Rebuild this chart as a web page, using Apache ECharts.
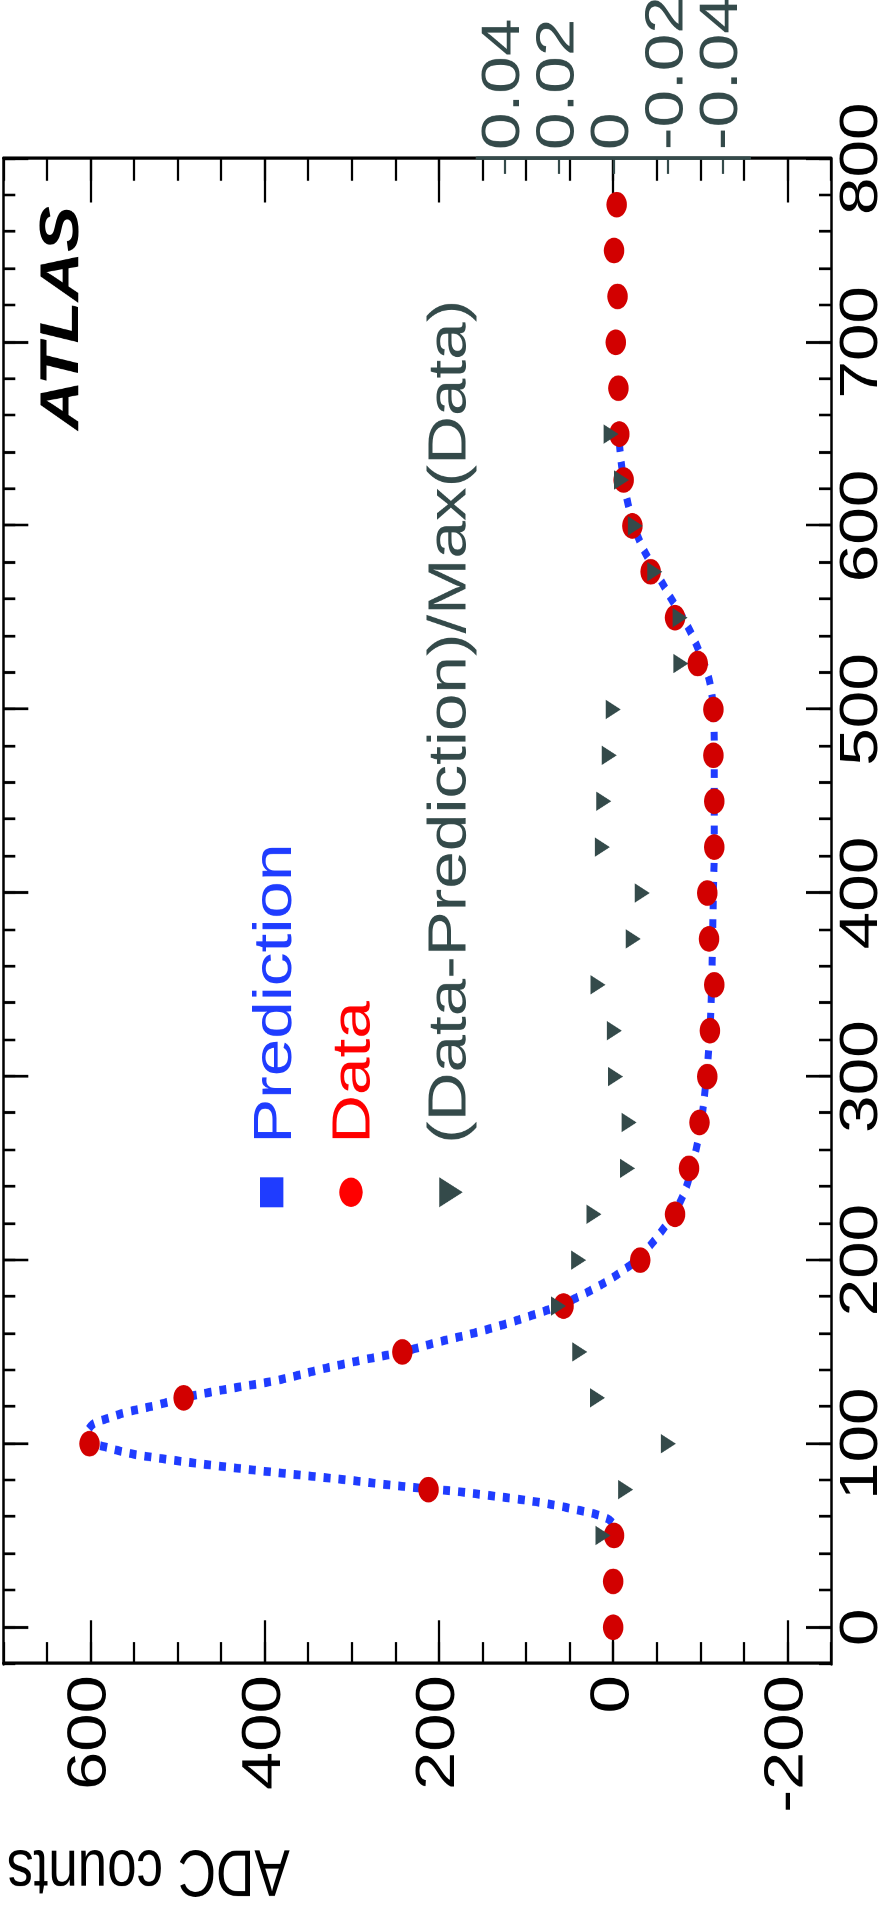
<!DOCTYPE html>
<html><head><meta charset="utf-8">
<script src="https://cdn.jsdelivr.net/npm/echarts@6/dist/echarts.min.js"></script>
<style>
html,body{margin:0;padding:0;background:#fff;overflow:hidden;width:891px;height:1910px}
#wrap{position:absolute;left:0;top:0;width:1528px;height:891px;transform-origin:0 0;
transform:translate(0,1910px) rotate(-90deg) scaleX(1.25);}
</style></head>
<body><div id="wrap"></div>
<script>
// ---- data ----
const timeNs  = [0,25,50,75,100,125,150,175,200,225,250,275,300,325,350,375,400,425,450,475,500,525,550,575,600,625,650,675,700,725,750,775];
const dataADC = [0,0,-1,212,601,493,242,57,-31,-71,-87,-99,-108,-111,-116,-110,-108,-116,-116,-115,-115,-97,-71,-43,-22,-12,-7,-6,-3,-5,-1,-4];
const ratioTime = [50,75,100,125,150,175,200,225,250,275,300,325,350,375,400,425,450,475,500,525,550,575,600,625,650];
const ratioVals = [0.0038,-0.0045,-0.0202,0.0058,0.0123,0.0201,0.0127,0.0071,-0.0052,-0.0058,-0.0008,-0.0004,0.0056,-0.0073,-0.0106,0.0040,0.0035,0.0015,0.0,-0.0248,-0.0245,-0.0152,-0.0081,-0.0030,0.0008];
const predTime = [57,59,62,64,66,68,70,72,74,76,78,80,82,85,88,91,94,96,98.5,100,102,105,108,111,114,117,121,125,128,131,134,137,140,143,146,150,155,160,165,170,175,180,185,190,195,200,210,220,230,240,250,260,275,300,325,350,375,400,425,450,475,500,512,520,530,540,550,560,570,580,590,600,612,625,640,655];
const predADC  = [1,6,23,42,61,84,112,146,180,225,265,300,340,400,455,505,547,566,585,597,603,604,602,596,579,560,524,493,463,428,391,364,340,313,284,242,204,162,125,93,63,40,20,2,-13,-27,-46,-62,-75,-84,-90,-95,-101,-107,-111,-113,-114,-115,-116,-116,-116,-115,-112,-108,-100,-91,-80,-67,-55,-43,-32,-24,-17,-12,-8,-6];
const timeTicks  = [0,100,200,300,400,500,600,700,800];
const adcTicks   = [-200,0,200,400,600];
const ratioTicks = [-0.04,-0.02,0,0.02,0.04];
const legendLabels = ['Prediction','Data','(Data-Prediction)/Max(Data)'];

// ---- style ----
const BLUE='#1f3cff', RED='#d20000', LRED='#ff0000', GRAY='#344a4a', FONT='"Liberation Sans", Arial, sans-serif';
const GL=196.8, GR=127, GT=3.3, GB=60;
const TMIN=-20, TMAX=800;

const chart = echarts.init(document.getElementById('wrap'), null, {width:1528, height:891, devicePixelRatio:2});

function xAx(pos, major, withLabel){
  return {type:'value', gridIndex:0, position:pos, min:TMIN, max:TMAX, interval:20,
    axisLine:{show:!major, onZero:false, lineStyle:{color:'#000', width:2.6}},
    axisTick:major?{show:true, inside:true, length:25, lineStyle:{color:'#000', width:2.2}, customValues:timeTicks}
                  :{show:true, inside:true, length:12, lineStyle:{color:'#000', width:2.2}},
    axisLabel:withLabel?{show:true, customValues:timeTicks, fontSize:54, fontFamily:FONT, color:'#000', margin:4, formatter:v=>String(v)}:{show:false},
    splitLine:{show:false}};
}
function yAx(pos, major, withLabel){
  return {type:'value', gridIndex:0, position:pos, min:-250, max:700, interval:50,
    axisLine:{show:!major, onZero:false, lineStyle:{color:'#000', width:2.6}},
    axisTick:major?{show:true, inside:true, length:35, lineStyle:{color:'#000', width:2.2}, customValues:adcTicks}
                  :{show:true, inside:true, length:17.6, lineStyle:{color:'#000', width:2.2}},
    axisLabel:withLabel?{show:true, customValues:adcTicks, fontSize:55, fontFamily:FONT, color:'#000', margin:9, formatter:v=>String(v)}:{show:false},
    splitLine:{show:false}};
}

const graphics = [
  {type:'text', x:1184, y:63, style:{text:'ATLAS', font:'italic bold 55px '+FONT, fill:'#000', align:'left', verticalAlign:'middle'}},
  {type:'text', x:32.8, y:7, rotation:Math.PI/2, style:{text:'ADC counts', font:'53px '+FONT, fill:'#000', align:'right', verticalAlign:'middle'}},
  // legend
  {type:'rect', shape:{x:574.2-12, y:271.7-11.7, width:24, height:23.4}, style:{fill:BLUE}},
  {type:'circle', shape:{cx:574.2, cy:351, r:11.7}, style:{fill:LRED}},
  {type:'polygon', shape:{points:[[574.2-12,451-11.7],[574.2+12,451-11.7],[574.2,451+11.7]]}, style:{fill:GRAY}},
  {type:'text', x:613, y:276, style:{text:legendLabels[0], font:'54px '+FONT, fill:BLUE, align:'left', verticalAlign:'middle'}},
  {type:'text', x:613, y:354.5, style:{text:legendLabels[1], font:'54px '+FONT, fill:LRED, align:'left', verticalAlign:'middle'}},
  {type:'text', x:613, y:450.5, style:{text:legendLabels[2], font:'54px '+FONT, fill:GRAY, align:'left', verticalAlign:'middle'}}
];

const option = {
  animation:false,
  backgroundColor:'#fff',
  grid:[
    {left:GL, right:GR, top:GT, bottom:GB, containLabel:false, outerBoundsMode:'none'},
    {left:GL, right:GR, top:477, bottom:141.4, containLabel:false, outerBoundsMode:'none'}
  ],
  xAxis:[
    xAx('bottom', false, true),
    xAx('bottom', true, false),
    xAx('top', false, false),
    xAx('top', true, false),
    {type:'value', gridIndex:1, min:TMIN, max:TMAX, show:false, axisLine:{onZero:false}}
  ],
  yAxis:[
    yAx('left', false, true),
    yAx('left', true, false),
    yAx('right', false, false),
    yAx('right', true, false),
    {type:'value', gridIndex:1, position:'right', min:-0.05, max:0.05, interval:0.01, z:5,
      axisLine:{show:true, onZero:false, lineStyle:{color:GRAY, width:2.8}},
      axisTick:{show:true, inside:true, length:12, customValues:ratioTicks, lineStyle:{color:GRAY, width:2.2}},
      axisLabel:{show:true, customValues:ratioTicks, fontSize:54, fontFamily:FONT, color:GRAY, margin:7,
        formatter:v=>(Math.abs(v)<1e-9?'0':String(+(+v).toFixed(2)))},
      splitLine:{show:false}}
  ],
  series:[
    {type:'line', name:'Prediction', xAxisIndex:0, yAxisIndex:0, data:predTime.map((t,i)=>[t,predADC[i]]),
      smooth:0.35, showSymbol:false, symbol:'none', z:2,
      lineStyle:{color:BLUE, width:7, type:[7,8], cap:'butt'}},
    {type:'scatter', name:'Data', xAxisIndex:0, yAxisIndex:0, data:timeNs.map((t,i)=>[t,dataADC[i]]),
      symbol:'circle', symbolSize:20.5, itemStyle:{color:RED, opacity:1}, z:3},
    {type:'scatter', name:'(Data-Prediction)/Max(Data)', xAxisIndex:4, yAxisIndex:4, data:ratioTime.map((t,i)=>[t,ratioVals[i]]),
      symbol:'triangle', symbolRotate:180, symbolSize:[15.5,15], itemStyle:{color:GRAY, opacity:1}, z:4}
  ],
  graphic:graphics
};
chart.setOption(option);
</script>
</body></html>
